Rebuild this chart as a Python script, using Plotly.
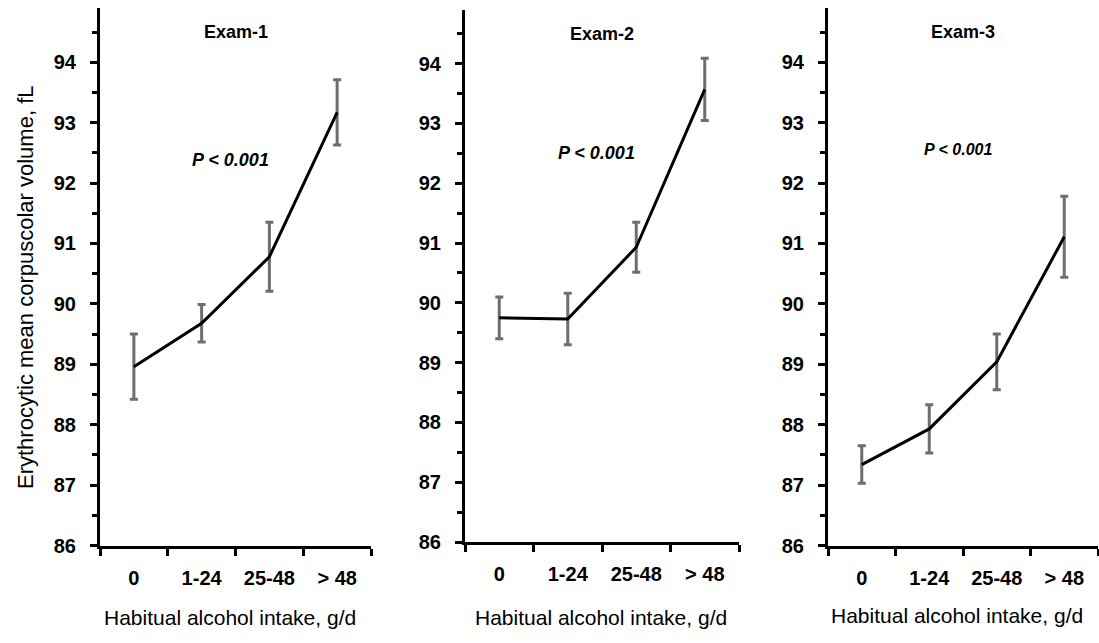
import plotly.graph_objects as go

categories = ["0", "1-24", "25-48", "> 48"]
exam_titles = ["Exam-1", "Exam-2", "Exam-3"]
exam1_mean = [88.96, 89.68, 90.78, 93.17]
exam1_err = [0.54, 0.31, 0.57, 0.54]
exam2_mean = [89.75, 89.73, 90.93, 93.57]
exam2_err = [0.35, 0.43, 0.42, 0.52]
exam3_mean = [87.34, 87.93, 89.04, 91.11]
exam3_err = [0.31, 0.40, 0.46, 0.67]
y_ticks = [86, 87, 88, 89, 90, 91, 92, 93, 94]
p_label = "P < 0.001"
p_value_y = [92.38, 92.5, 92.55]
y_title = "Erythrocytic mean corpuscolar volume, fL"
x_title = "Habitual alcohol intake, g/d"

W, H = 1099, 643
FONT = "Liberation Sans, Arial, sans-serif"

# pixel layout of each panel: (left, right, bottom, top)
panels_px = [(100, 371, 555, 8), (465, 739, 551.5, 10), (828, 1098, 555, 8)]
p_font_sizes = [18, 18, 16]
x_title_px = [(230, 628), (601, 628), (957, 626)]

means = [exam1_mean, exam2_mean, exam3_mean]
errs = [exam1_err, exam2_err, exam3_err]

fig = go.Figure()
annotations = []
for i in range(3):
    sfx = "" if i == 0 else str(i + 1)
    fig.add_trace(go.Scatter(
        x=categories, y=means[i], mode="lines",
        line=dict(color="black", width=3),
        error_y=dict(type="data", array=errs[i], visible=True,
                     color="#6e6e6e", thickness=3, width=4),
        xaxis="x" + sfx, yaxis="y" + sfx, showlegend=False,
    ))
    l, r, b, t = panels_px[i]
    xdom = [l / W, r / W]
    ydom = [(H - b) / H, (H - t) / H]
    fig.layout["xaxis" + sfx] = dict(
        domain=xdom, anchor="y" + sfx, type="category",
        categoryorder="array", categoryarray=categories,
        range=[-0.5, 3.5], tickson="boundaries",
        showline=True, linecolor="black", linewidth=3,
        ticks="outside", ticklen=7, tickwidth=3, tickcolor="black",
        showgrid=False, zeroline=False, ticklabelstandoff=12,
        tickfont=dict(family=FONT, size=20, color="black", weight="bold"),
    )
    fig.layout["yaxis" + sfx] = dict(
        domain=ydom, anchor="x" + sfx, range=[86, 94.9],
        tickvals=y_ticks, ticktext=[str(v) for v in y_ticks],
        showline=True, linecolor="black", linewidth=3,
        ticks="outside", ticklen=7, tickwidth=3, tickcolor="black",
        minor=dict(dtick=0.5, ticks="outside", ticklen=5, tickwidth=3, tickcolor="black"),
        showgrid=False, zeroline=False, ticklabelstandoff=10,
        tickfont=dict(family=FONT, size=20, color="black", weight="bold"),
    )
    annotations.append(dict(
        text="<b>" + exam_titles[i] + "</b>", x=0.5, y=94.5,
        xref="x" + sfx + " domain", yref="y" + sfx,
        xanchor="center", yanchor="middle",
        showarrow=False, font=dict(family=FONT, size=18, color="black"),
    ))
    annotations.append(dict(
        text="<b><i>" + p_label + "</i></b>", x=0.48, y=p_value_y[i],
        xref="x" + sfx + " domain", yref="y" + sfx,
        xanchor="center", yanchor="middle",
        showarrow=False, font=dict(family=FONT, size=p_font_sizes[i], color="black"),
    ))
    xt, yt = x_title_px[i]
    annotations.append(dict(
        text=x_title, x=xt / W, y=(H - yt) / H, xref="paper", yref="paper",
        xanchor="center", yanchor="middle",
        showarrow=False, font=dict(family=FONT, size=21, color="black"),
    ))

annotations.append(dict(
    text=y_title, x=25 / W, y=(H - 292) / H, xref="paper", yref="paper",
    xanchor="center", yanchor="middle", textangle=-90, showarrow=False,
    font=dict(family=FONT, size=22, color="black"),
))

fig.update_layout(
    width=W, height=H,
    margin=dict(l=0, r=0, t=0, b=0),
    plot_bgcolor="white", paper_bgcolor="white",
    annotations=annotations,
)

fig.write_html("out.html")
